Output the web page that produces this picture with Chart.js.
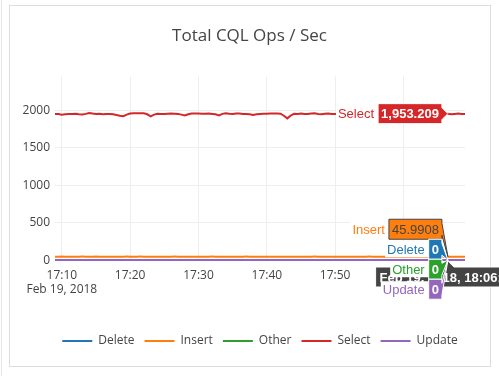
<!DOCTYPE html>
<html>
<head>
<meta charset="UTF-8" />
<title>Total CQL Ops / Sec</title>
<script src="https://cdn.jsdelivr.net/npm/chart.js"></script>
<style>
  html, body {
    margin: 0;
    padding: 0;
    background: #fff;
    overflow: hidden;
  }
  .edge {
    position: absolute;
    left: 1px; top: 0;
    width: 1px; height: 376px;
    background: #e6e6e6;
  }
  .card {
    position: absolute;
    left: 9px; top: 5px;
    width: 480px; height: 360px;
    border: 1px solid #ddd;
  }
  #chart {
    position: absolute;
    left: 10px; top: 6px;
  }
</style>
</head>
<body>
<div class="edge"></div>
<div class="card"></div>
<canvas id="chart" width="489" height="360"></canvas>
<script>
// sample times (Feb 19, 2018), every 30 s
const times = [
  '17:09:00','17:09:30','17:10:00','17:10:30','17:11:00','17:11:30','17:12:00','17:12:30','17:13:00','17:13:30',
  '17:14:00','17:14:30','17:15:00','17:15:30','17:16:00','17:16:30','17:17:00','17:17:30','17:18:00','17:18:30',
  '17:19:00','17:19:30','17:20:00','17:20:30','17:21:00','17:21:30','17:22:00','17:22:30','17:23:00','17:23:30',
  '17:24:00','17:24:30','17:25:00','17:25:30','17:26:00','17:26:30','17:27:00','17:27:30','17:28:00','17:28:30',
  '17:29:00','17:29:30','17:30:00','17:30:30','17:31:00','17:31:30','17:32:00','17:32:30','17:33:00','17:33:30',
  '17:34:00','17:34:30','17:35:00','17:35:30','17:36:00','17:36:30','17:37:00','17:37:30','17:38:00','17:38:30',
  '17:39:00','17:39:30','17:40:00','17:40:30','17:41:00','17:41:30','17:42:00','17:42:30','17:43:00','17:43:30',
  '17:44:00','17:44:30','17:45:00','17:45:30','17:46:00','17:46:30','17:47:00','17:47:30','17:48:00','17:48:30',
  '17:49:00','17:49:30','17:50:00','17:50:30','17:51:00','17:51:30','17:52:00','17:52:30','17:53:00','17:53:30',
  '17:54:00','17:54:30','17:55:00','17:55:30','17:56:00','17:56:30','17:57:00','17:57:30','17:58:00','17:58:30',
  '17:59:00','17:59:30','18:00:00','18:00:30','18:01:00','18:01:30','18:02:00','18:02:30','18:03:00','18:03:30',
  '18:04:00','18:04:30','18:05:00','18:05:30','18:06:00','18:06:30','18:07:00','18:07:30','18:08:00','18:08:30',
  '18:09:00'
];

const deleteOps = [
  0,0,0,0,0,0,0,0,0,0, 0,0,0,0,0,0,0,0,0,0, 0,0,0,0,0,0,0,0,0,0,
  0,0,0,0,0,0,0,0,0,0, 0,0,0,0,0,0,0,0,0,0, 0,0,0,0,0,0,0,0,0,0,
  0,0,0,0,0,0,0,0,0,0, 0,0,0,0,0,0,0,0,0,0, 0,0,0,0,0,0,0,0,0,0,
  0,0,0,0,0,0,0,0,0,0, 0,0,0,0,0,0,0,0,0,0, 0,0,0,0,0,0,0,0,0,0,
  0
];
const insertOps = [
  46.2,45.8,46.5,46.0,45.6,46.3,46.1,45.9,46.4,46.0, 45.7,46.2,46.6,45.9,46.1,45.8,46.3,46.0,45.5,45.9,
  46.2,46.4,46.0,45.8,46.1,46.5,45.9,46.0,45.6,46.2, 46.3,45.9,46.1,46.0,45.8,46.4,46.2,45.7,45.9,46.1,
  46.0,46.3,45.8,46.2,46.0,45.9,46.5,46.1,45.6,46.0, 46.2,45.9,46.3,46.0,45.8,46.1,46.4,45.9,46.0,46.2,
  45.7,46.0,46.3,45.9,46.1,46.0,45.8,46.2,45.4,46.0, 46.3,46.1,45.9,46.0,46.2,45.8,46.4,46.0,45.9,46.1,
  46.0,45.7,46.2,46.0,45.9,46.3,46.1,45.8,46.0,46.2, 45.9,46.1,46.4,46.0,45.8,46.2,46.0,45.9,46.1,46.3,
  45.9,46.0,46.2,45.8,46.1,46.0,45.9,46.3,46.0,45.8, 46.1,46.2,45.9,46.0,46.1,45.9908,46.2,45.9,46.1,46.0,
  45.9
];
const otherOps = [
  0,0,0,0,0,0,0,0,0,0, 0,0,0,0,0,0,0,0,0,0, 0,0,0,0,0,0,0,0,0,0,
  0,0,0,0,0,0,0,0,0,0, 0,0,0,0,0,0,0,0,0,0, 0,0,0,0,0,0,0,0,0,0,
  0,0,0,0,0,0,0,0,0,0, 0,0,0,0,0,0,0,0,0,0, 0,0,0,0,0,0,0,0,0,0,
  0,0,0,0,0,0,0,0,0,0, 0,0,0,0,0,0,0,0,0,0, 0,0,0,0,0,0,0,0,0,0,
  0
];
const selectOps = [
  1950,1948,1940,1946,1950,1949,1951,1945,1942,1950, 1962,1955,1950,1952,1946,1950,1950,1944,1935,1925,
  1920,1940,1955,1958,1960,1958,1958,1945,1918,1940, 1952,1950,1948,1952,1955,1952,1950,1940,1928,1945,
  1955,1956,1955,1953,1952,1955,1950,1945,1930,1950, 1958,1952,1950,1956,1955,1950,1948,1944,1936,1946,
  1950,1952,1953,1955,1955,1954,1952,1925,1890,1928, 1952,1950,1955,1950,1948,1955,1957,1950,1945,1952,
  1955,1950,1950,1954,1948,1952,1955,1950,1946,1952, 1956,1950,1944,1952,1955,1953,1950,1948,1954,1956,
  1950,1945,1952,1955,1951,1948,1953,1956,1950,1947, 1952,1955,1950,1948,1950,1953.209,1945,1950,1956,1950,
  1948
];
const updateOps = [
  0,0,0,0,0,0,0,0,0,0, 0,0,0,0,0,0,0,0,0,0, 0,0,0,0,0,0,0,0,0,0,
  0,0,0,0,0,0,0,0,0,0, 0,0,0,0,0,0,0,0,0,0, 0,0,0,0,0,0,0,0,0,0,
  0,0,0,0,0,0,0,0,0,0, 0,0,0,0,0,0,0,0,0,0, 0,0,0,0,0,0,0,0,0,0,
  0,0,0,0,0,0,0,0,0,0, 0,0,0,0,0,0,0,0,0,0, 0,0,0,0,0,0,0,0,0,0,
  0
];

const seriesNames = ['Delete', 'Insert', 'Other', 'Select', 'Update'];
const seriesColors = ['#1f77b4', '#ff7f0e', '#2ca02c', '#d62728', '#9467bd'];
const xTicks = ['17:10', '17:20', '17:30', '17:40', '17:50', '18:00'];
const yTicks = [0, 500, 1000, 1500, 2000];
const dateLabel = 'Feb 19, 2018';
const hoverTime = '18:06:30';

function toMin(t) {
  const p = t.split(':').map(Number);
  return (p[0] - 17) * 60 + p[1] + (p[2] || 0) / 60;
}

const allSeries = [deleteOps, insertOps, otherOps, selectOps, updateOps];
const datasets = allSeries.map((vals, i) => ({
  label: seriesNames[i],
  data: times.map((t, j) => ({ x: toMin(t), y: vals[j] })),
  borderColor: seriesColors[i],
  backgroundColor: seriesColors[i],
  borderWidth: 2,
  pointRadius: 0,
  tension: 0,
  order: allSeries.length - i
}));

// put the title over the card centre and the legend under the plot centre
const boxShift = {
  id: 'boxShift',
  afterLayout(chart) {
    const a = chart.chartArea;
    const lg = chart.legend;
    const w = lg.right - lg.left, c = (a.left + a.right) / 2;
    lg.left = c - w / 2;
    lg.right = c + w / 2;
    chart.titleBlock.left = 0;
    chart.titleBlock.right = 479;
  }
};

function textOn(bg) {
  const r = parseInt(bg.slice(1, 3), 16), g = parseInt(bg.slice(3, 5), 16), b = parseInt(bg.slice(5, 7), 16);
  return (r * 299 + g * 587 + b * 114) / 1000 > 128 ? '#444' : '#fff';
}

// plotly-style hover labels at one time
const hoverLabels = {
  id: 'hoverLabels',
  afterDraw(chart) {
    const ctx = chart.ctx, xs = chart.scales.x, ys = chart.scales.y;
    const idx = times.indexOf(hoverTime);
    const px = xs.getPixelForValue(toMin(hoverTime));
    const bottom = chart.chartArea.bottom;
    const h = 20;
    ctx.save();
    ctx.lineWidth = 1;
    ctx.textBaseline = 'middle';

    // x label
    ctx.font = 'bold 13px "Liberation Sans", Arial, sans-serif';
    const xt = dateLabel + ', ' + hoverTime;
    const xw = ctx.measureText(xt).width + 8;
    const top = bottom + 6;
    ctx.beginPath();
    ctx.moveTo(px, bottom);
    ctx.lineTo(px + 6, top);
    ctx.lineTo(px + xw / 2, top);
    ctx.lineTo(px + xw / 2, top + h);
    ctx.lineTo(px - xw / 2, top + h);
    ctx.lineTo(px - xw / 2, top);
    ctx.lineTo(px - 6, top);
    ctx.closePath();
    ctx.fillStyle = '#444';
    ctx.fill();
    ctx.strokeStyle = '#fff';
    ctx.stroke();
    ctx.fillStyle = '#fff';
    ctx.textAlign = 'center';
    ctx.fillText(xt, px, top + h / 2 + 1);

    // series labels, overlapping ones spread round their mean
    const labels = allSeries.map((vals, i) => ({
      i, value: vals[idx], py: ys.getPixelForValue(vals[idx])
    })).sort((a, b) => a.py - b.py || a.i - b.i);
    let groups = labels.map(l => ({ items: [l], mean: l.py }));
    let merged = true;
    while (merged) {
      merged = false;
      for (let k = 0; k < groups.length - 1; k++) {
        const g1 = groups[k], g2 = groups[k + 1];
        if (g1.mean + g1.items.length * h / 2 > g2.mean - g2.items.length * h / 2) {
          const items = g1.items.concat(g2.items);
          groups.splice(k, 2, { items, mean: items.reduce((s, l) => s + l.py, 0) / items.length });
          merged = true;
          break;
        }
      }
    }
    groups.forEach(g => {
      const t0 = g.mean - g.items.length * h / 2;
      g.items.forEach((l, k) => { l.cy = t0 + h * (k + 0.5); });
    });

    labels.forEach(l => {
      const bg = seriesColors[l.i];
      const fg = textOn(bg);
      const txt = l.value.toLocaleString('en-US', { maximumFractionDigits: 4 });
      ctx.font = (fg === '#fff' ? 'bold ' : '') + '13px "Liberation Sans", Arial, sans-serif';
      const w = ctx.measureText(txt).width + 6;
      const r = px - 6, lft = r - w, t = l.cy - h / 2, off = l.cy;

      // name, on the page background, left of the box
      ctx.font = '13px "Liberation Sans", Arial, sans-serif';
      const nw = ctx.measureText(seriesNames[l.i]).width;
      ctx.fillStyle = '#fff';
      ctx.fillRect(lft - nw - 6, t + 2, nw + 6, h - 4);
      ctx.fillStyle = bg;
      ctx.textAlign = 'right';
      ctx.fillText(seriesNames[l.i], lft - 4, l.cy + 1);

      ctx.beginPath();
      ctx.moveTo(px, l.py);
      ctx.lineTo(r, off + 6);
      ctx.lineTo(r, t + h);
      ctx.lineTo(lft, t + h);
      ctx.lineTo(lft, t);
      ctx.lineTo(r, t);
      ctx.lineTo(r, off - 6);
      ctx.closePath();
      ctx.fillStyle = bg;
      ctx.fill();
      ctx.strokeStyle = fg;
      ctx.stroke();
      ctx.font = (fg === '#fff' ? 'bold ' : '') + '13px "Liberation Sans", Arial, sans-serif';
      ctx.fillStyle = fg;
      ctx.textAlign = 'left';
      ctx.fillText(txt, lft + 3, l.cy + 1);
    });
    ctx.restore();
  }
};

const font = { family: '"Open Sans", sans-serif', size: 12 };

new Chart(document.getElementById('chart'), {
  type: 'line',
  data: { datasets: datasets },
  options: {
    responsive: false,
    animation: false,
    events: [],
    layout: { padding: { left: 0, right: 34, top: 0, bottom: 9 } },
    scales: {
      x: {
        type: 'linear',
        min: toMin(times[0]),
        max: toMin(times[times.length - 1]),
        afterBuildTicks: s => { s.ticks = xTicks.map(t => ({ value: toMin(t) })); },
        afterFit: s => { s.height = 64; },
        ticks: {
          callback: (v, i) => i === 0 ? [xTicks[i], dateLabel] : xTicks[i],
          color: '#444',
          font: { family: font.family, size: 12, lineHeight: 1.15 },
          padding: 8,
          maxRotation: 0,
          autoSkip: false
        },
        grid: { color: '#eee', drawTicks: false },
        border: { display: false }
      },
      y: {
        min: -12,
        max: 2450,
        afterBuildTicks: s => { s.ticks = yTicks.map(v => ({ value: v })); },
        afterFit: s => { s.width = 45; },
        ticks: { callback: v => String(v), color: '#444', font: font, padding: 5 },
        grid: { color: '#eee', drawTicks: false },
        border: { display: false }
      }
    },
    plugins: {
      title: {
        display: true,
        text: 'Total CQL Ops / Sec',
        color: '#444',
        font: { family: font.family, size: 17, weight: 'normal' },
        padding: { top: 20, bottom: 30 }
      },
      legend: {
        position: 'bottom',
        labels: {
          usePointStyle: true,
          pointStyle: 'line',
          pointStyleWidth: 30,
          padding: 10,
          color: '#444',
          font: font,
          sort: (a, b) => a.datasetIndex - b.datasetIndex
        }
      },
      tooltip: { enabled: false }
    }
  },
  plugins: [boxShift, hoverLabels]
});
</script>
</body>
</html>
